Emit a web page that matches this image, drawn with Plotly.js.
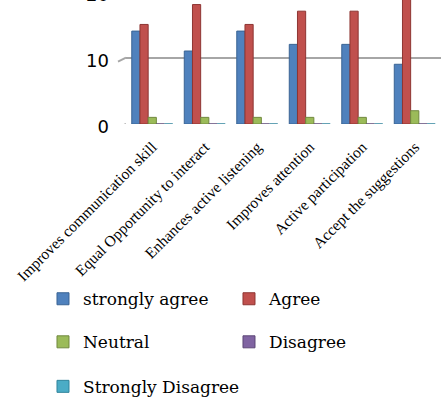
<!DOCTYPE html>
<html><head><meta charset="utf-8">
<script src="https://cdn.plot.ly/plotly-3.0.1.min.js"></script>
<style>
html,body{margin:0;padding:0;overflow:hidden;background:#fff;width:441px;height:401px}
#chart{position:absolute;left:0;top:-25px;width:441px;height:431px}
</style>
</head><body><div id="chart"></div>
<script>
const categories = ["Improves communication skill","Equal Opportunity to interact","Enhances active listening","Improves attention","Active participation","Accept the suggestions"];
const seriesNames = ["strongly agree","Agree","Neutral","Disagree","Strongly Disagree"];
const stronglyAgree = [14,11,14,12,12,9];
const agree = [15,18,15,17,17,19];
const neutral = [1,1,1,1,1,2];
const disagree = [0,0,0,0,0,0];
const stronglyDisagree = [0,0,0,0,0,0];
const yTicks = [0,10,20];

const values = [stronglyAgree, agree, neutral, disagree, stronglyDisagree];
const colors = ["#4F81BD","#C0504D","#9BBB59","#8064A2","#4BACC6"];
const edges = ["#3A6494","#8E3532","#71893F","#5C4776","#31859C"];
const legendIds = ["legend","legend","legend2","legend2","legend3"];

const traces = values.map((v,i)=>({
  type:"bar", x:categories, y:v, name:seriesNames[i],
  marker:{color:colors[i], line:{color:edges[i], width:1}},
  legend:legendIds[i], hoverinfo:"skip"
}));

const legendFont = {family:"DejaVu Serif", size:17, color:"#000"};
function leg(y, ew){
  const o = {orientation:"h", x:-0.2635, xanchor:"left", y:y, yanchor:"middle",
    font:legendFont, bgcolor:"rgba(0,0,0,0)", traceorder:"normal"};
  if (ew) o.entrywidth = ew;
  return o;
}

const shapes = yTicks.map(t=>({
  type:"line", xref:"paper", yref:"y", xsizemode:"pixel", xanchor:0, x0:-8, x1:0,
  ysizemode:"pixel", yanchor:t, y0:-4, y1:0,
  line:{color:"#a6a6a6", width:2}
}));

const layout = {
  width:441, height:431,
  margin:{l:126, r:0, t:3, b:274},
  paper_bgcolor:"#fff", plot_bgcolor:"#fff",
  barmode:"group", bargap:0.22, bargroupgap:0,
  showlegend:true,
  xaxis:{type:"category", tickangle:-45, tickfont:{family:"Liberation Serif", size:15.5, color:"#000"},
    showgrid:false, zeroline:false, showline:false, ticks:"", ticklabelstandoff:10, automargin:false},
  yaxis:{range:[0,22], tickvals:yTicks, ticktext:yTicks.map(String),
    tickfont:{family:"DejaVu Sans", size:18, color:"#000"},
    showgrid:true, gridcolor:"#a6a6a6", gridwidth:2, zeroline:false, showline:false,
    ticks:"", ticklabelstandoff:16, ticklabelshift:3, automargin:false},
  legend:leg(-1.20, 141), legend2:leg(-1.495, 141), legend3:leg(-1.80, 0),
  shapes:shapes
};
Plotly.newPlot("chart", traces, layout, {staticPlot:true, displayModeBar:false});
</script>
</body></html>
